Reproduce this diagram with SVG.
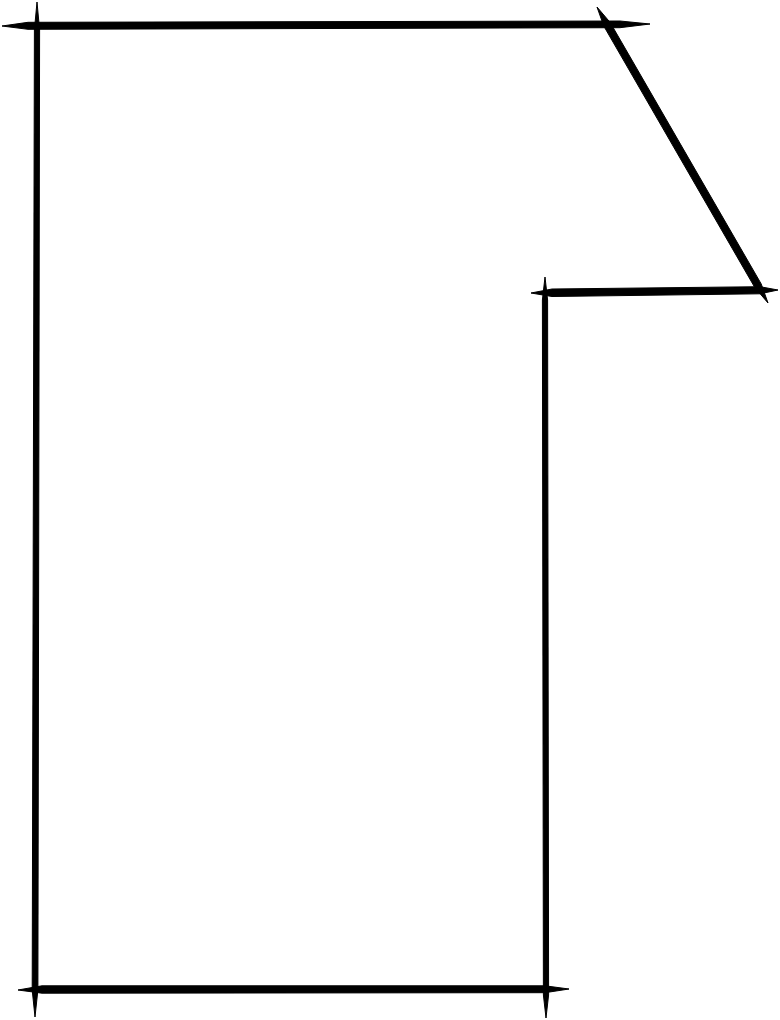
<svg xmlns="http://www.w3.org/2000/svg" width="780" height="1020" viewBox="0 0 780 1020">
<style>.s{fill:#000;stroke:#000;stroke-width:1;stroke-linejoin:round}</style>
<rect width="780" height="1020" fill="#fff"/>
<g id="outline">
<polygon class="s" points="2,26 28,22.3 620,21 650,24 620,27.7 28,29.3"/>
<polygon class="s" points="37,2 39.6,30 37.9,990 35,1017 32.2,990 34.4,30"/>
<polygon class="s" points="597,7 610.2,22.5 761.2,283.9 768,303 754.8,287.5 603.8,26.1"/>
<polygon class="s" points="531,293 552,289 760,286.7 778,290 760,293.8 552,296.5"/>
<polygon class="s" points="545,277 547.6,300 548.6,995 546,1018 543.4,995 542.4,300"/>
<polygon class="s" points="18,990 42,985.8 545,985.8 569,989 545,992.7 42,993.2"/>
</g>
</svg>
